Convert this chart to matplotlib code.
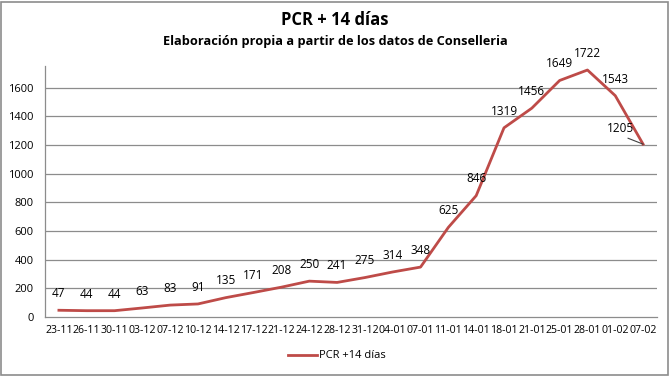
import matplotlib
matplotlib.use("Agg")
import matplotlib.pyplot as plt
from matplotlib.patches import Rectangle

plt.rcParams['font.family'] = ['Open Sans', 'DejaVu Sans']

categories = ["23-11", "26-11", "30-11", "03-12", "07-12", "10-12", "14-12", "17-12",
              "21-12", "24-12", "28-12", "31-12", "04-01", "07-01", "11-01", "14-01",
              "18-01", "21-01", "25-01", "28-01", "01-02", "07-02"]
values = [47, 44, 44, 63, 83, 91, 135, 171, 208, 250, 241, 275, 314, 348, 625, 846,
          1319, 1456, 1649, 1722, 1543, 1205]
yticks = [0, 200, 400, 600, 800, 1000, 1200, 1400, 1600]
series_name = "PCR +14 días"
title = "PCR + 14 días"
subtitle = "Elaboración propia a partir de los datos de Conselleria"

W, H = 670, 376
fig = plt.figure(figsize=(W / 100, H / 100), dpi=100)
ax = fig.add_axes([45 / W, 1 - 317 / H, (657 - 45) / W, (317 - 66) / H])

x = list(range(len(categories)))
color = "#BE4B48"
line, = ax.plot(x, values, color=color, lw=2.0, solid_joinstyle="round", label=series_name)

ax.set_xlim(-0.5, len(categories) - 0.5)
ax.set_ylim(0, 1750)
ax.set_yticks(yticks)
ax.set_yticklabels([str(v) for v in yticks], fontsize=8)
ax.set_xticks(x)
ax.set_xticklabels(categories, fontsize=7.6)
ax.tick_params(axis="both", length=0, pad=6)
ax.tick_params(axis="y", pad=8)
for yv in yticks[1:]:
    ax.axhline(yv, color="#8C8C8C", lw=0.9, zorder=0)
for s in ["top", "right"]:
    ax.spines[s].set_visible(False)
for s in ["left", "bottom"]:
    ax.spines[s].set_color("#8C8C8C")
    ax.spines[s].set_linewidth(0.9)

for i, v in enumerate(values):
    if i == len(values) - 1:
        ax.annotate(str(v), xy=(i, v), xytext=(-16, 11), textcoords="offset points",
                    ha="center", va="center", fontsize=8.5,
                    arrowprops=dict(arrowstyle="-", color="#404040", lw=0.8,
                                    shrinkA=0, shrinkB=0, relpos=(0.5, 0.0)))
    else:
        ax.annotate(str(v), xy=(i, v), xytext=(0, 12), textcoords="offset points",
                    ha="center", va="center", fontsize=8.5)

fig.text(0.5, 1 - 20 / H, title, ha="center", va="center", fontsize=12, fontweight="bold")
fig.text(0.5, 1 - 42 / H, subtitle, ha="center", va="center", fontsize=9.2, fontweight="bold")

fig.legend(handles=[line], loc="center", bbox_to_anchor=(337 / W, 1 - 356 / H),
           frameon=False, fontsize=8, handlelength=2.6, handletextpad=0.2)

fig.patches.append(Rectangle((1 / W, 1 / H), (W - 3) / W, (H - 3) / H,
                             transform=fig.transFigure, fill=False,
                             edgecolor="#8C8C8C", lw=1.2))

fig.savefig("out.png", dpi=100)
